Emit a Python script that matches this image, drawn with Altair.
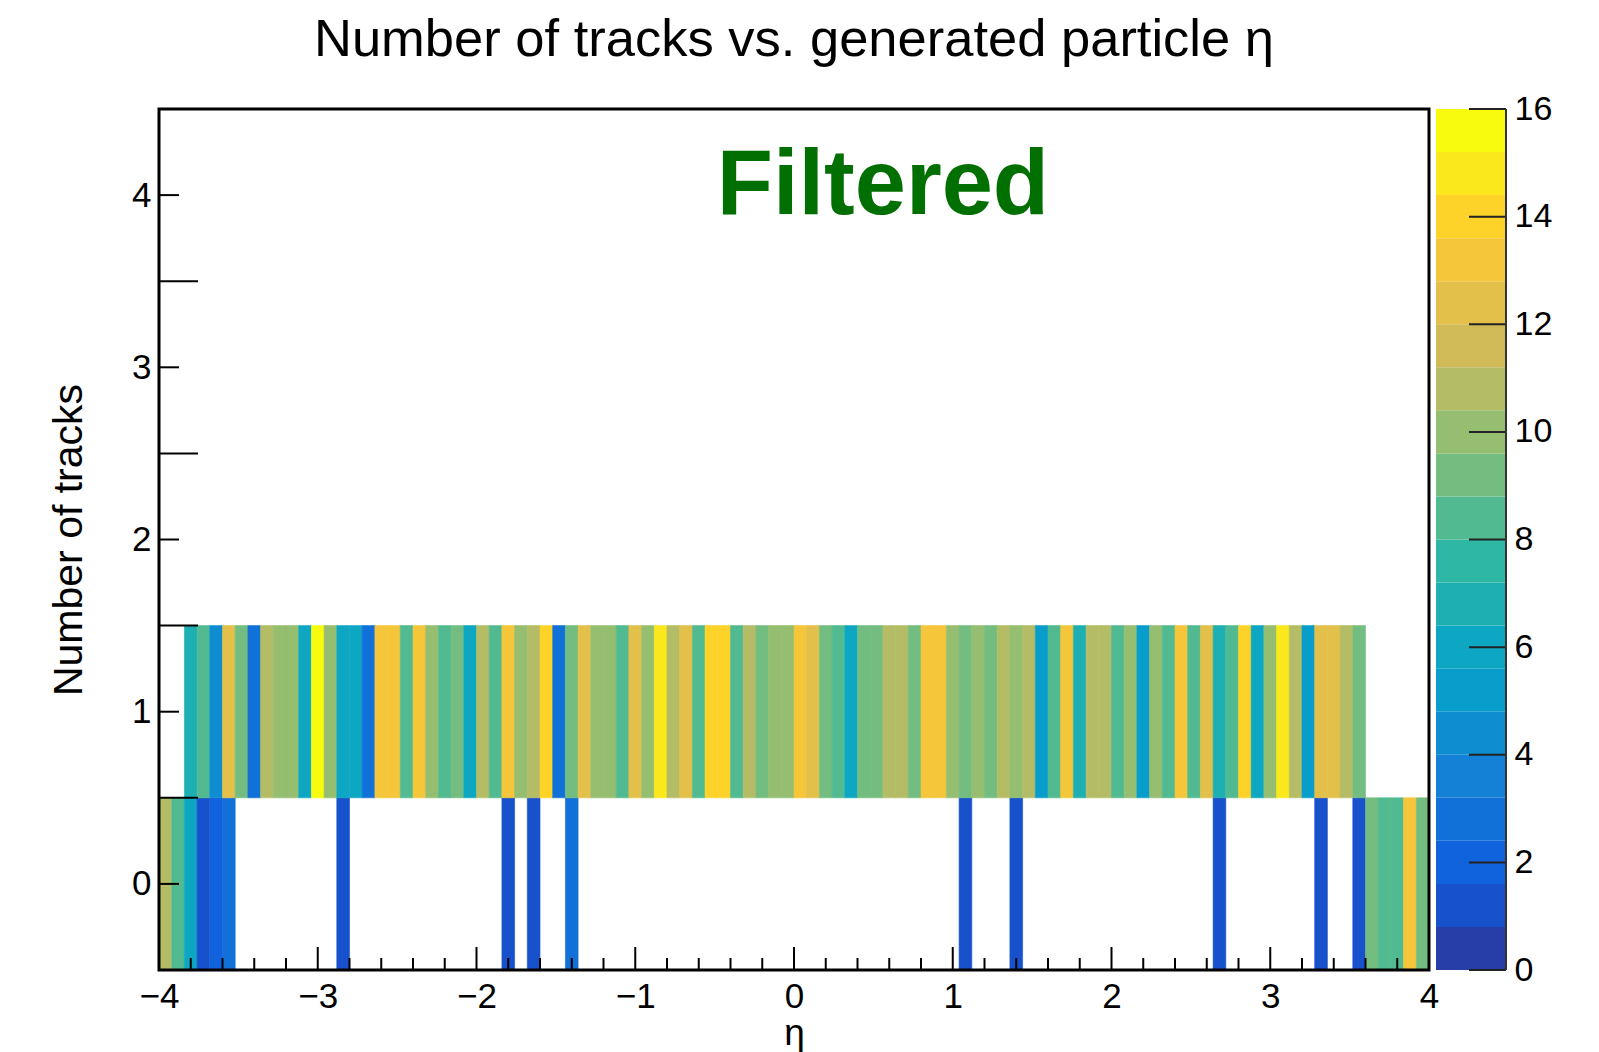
import altair as alt
import numpy as np
import pandas as pd

# ---------------- data ----------------
eta_min, eta_max, n_bins = -4.0, 4.0, 100
ntracks_rows = [0, 1]

counts_ntr0 = [11, 8, 6, 1, 2, 3, 0, 0, 0, 0,
               0, 0, 0, 0, 1, 0, 0, 0, 0, 0,
               0, 0, 0, 0, 0, 0, 0, 1, 0, 1,
               0, 0, 3, 0, 0, 0, 0, 0, 0, 0,
               0, 0, 0, 0, 0, 0, 0, 0, 0, 0,
               0, 0, 0, 0, 0, 0, 0, 0, 0, 0,
               0, 0, 0, 1, 0, 0, 0, 1, 0, 0,
               0, 0, 0, 0, 0, 0, 0, 0, 0, 0,
               0, 0, 0, 1, 0, 0, 0, 0, 0, 0,
               0, 1, 0, 0, 1, 9, 8, 8, 13, 9]

counts_ntr1 = [0, 0, 7, 8, 4, 12, 9, 3, 11, 10,
               10, 6, 16, 10, 6, 6, 3, 13, 13, 8,
               13, 10, 8, 9, 6, 11, 8, 13, 10, 11,
               14, 3, 9, 12, 10, 10, 8, 12, 10, 15,
               11, 12, 8, 14, 14, 8, 11, 9, 10, 10,
               13, 12, 9, 8, 6, 9, 9, 11, 11, 9,
               13, 13, 10, 9, 10, 9, 11, 10, 11, 5,
               8, 13, 7, 11, 11, 8, 10, 5, 10, 8,
               13, 8, 12, 7, 8, 14, 6, 10, 15, 11,
               5, 12, 12, 11, 9, 0, 0, 0, 0, 0]

x_major = [-4, -3, -2, -1, 0, 1, 2, 3, 4]
x_minor = [round(-4 + 0.2 * i, 1) for i in range(41) if i % 5]
y_labels = [0, 1, 2, 3, 4]
y_long = [0.5, 1.5, 2.5, 3.5]
z_max = 16
n_contours = 20
z_ticks = [0, 2, 4, 6, 8, 10, 12, 14, 16]

title_text = "Number of tracks vs. generated particle \u03b7"
x_title = "\u03b7"
y_title = "Number of tracks"
note_text = "Filtered"

# ---------------- style ----------------
W, H = 1270, 861
FONT = "Liberation Sans"
CB_X0, CB_X1 = 1277, 1347

# ROOT kBird palette
stops = [0.0, 0.125, 0.25, 0.375, 0.5, 0.625, 0.75, 0.875, 1.0]
red = [0.2082, 0.0592, 0.0780, 0.0232, 0.1802, 0.5301, 0.8186, 0.9956, 0.9764]
green = [0.1664, 0.3599, 0.5041, 0.6419, 0.7178, 0.7492, 0.7328, 0.7862, 0.9832]
blue = [0.5293, 0.8684, 0.8385, 0.7914, 0.6425, 0.4662, 0.3499, 0.1968, 0.0539]


def bird(f):
    r = np.interp(f, stops, red)
    g = np.interp(f, stops, green)
    b = np.interp(f, stops, blue)
    return "#%02x%02x%02x" % (int(round(r * 255)), int(round(g * 255)), int(round(b * 255)))


band_colors = [bird(int((i + 0.99) * 255 / n_contours) / 254) for i in range(n_contours)]
thresholds = [round(z_max * i / n_contours, 4) for i in range(1, n_contours)]

# ---------------- tables ----------------
bw = (eta_max - eta_min) / n_bins
recs = []
for r, arr in zip(ntracks_rows, [counts_ntr0, counts_ntr1]):
    for k, c in enumerate(arr):
        if c > 0:
            lo = eta_min + k * bw
            recs.append(dict(eta_lo=lo, eta_hi=lo + bw, ntr_lo=r - 0.5, ntr_hi=r + 0.5, count=c))
heat_df = pd.DataFrame(recs)

edges = [z_max * i / n_contours for i in range(n_contours + 1)]
cb_df = pd.DataFrame({"lo": edges[:-1], "hi": edges[1:],
                      "mid": [(a + b) / 2 for a, b in zip(edges[:-1], edges[1:])]})


def xs():
    return alt.Scale(domain=[eta_min, eta_max], nice=False, zero=False)


def ys():
    return alt.Scale(domain=[-0.5, 4.5], nice=False, zero=False)


def zs():
    return alt.Scale(domain=[0, z_max], nice=False, zero=False)


cs = alt.Scale(type="threshold", domain=thresholds, range=band_colors)

x_axis = alt.Axis(values=x_major, ticks=False, domain=False, grid=False,
                  labelFontSize=35, labelPadding=9, labelFlush=False, labelColor="black",
                  title=x_title, titleFontSize=37, titleFontWeight="normal", titleColor="black",
                  titleY=74, titleBaseline="alphabetic")
y_axis = alt.Axis(values=y_labels, ticks=False, domain=False, grid=False,
                  labelFontSize=35, labelPadding=8, labelFlush=False, labelColor="black",
                  title=y_title, titleFontSize=41, titleFontWeight="normal", titleColor="black",
                  titleX=-90, titleY=H / 2, titleBaseline="middle")
cb_axis = alt.Axis(orient="right", offset=CB_X1 - W, values=z_ticks, ticks=False,
                   domain=False, grid=False, labelFontSize=34, labelPadding=8,
                   labelFlush=False, labelColor="black", title=None)

heat = alt.Chart(heat_df).mark_rect(strokeWidth=0.6).encode(
    x=alt.X("eta_lo:Q", scale=xs(), axis=x_axis),
    x2="eta_hi:Q",
    y=alt.Y("ntr_lo:Q", scale=ys(), axis=y_axis),
    y2="ntr_hi:Q",
    color=alt.Color("count:Q", scale=cs, legend=None),
    stroke=alt.Stroke("count:Q", scale=cs, legend=None),
)

tick_style = dict(color="black", strokeWidth=2)
xt_major = alt.Chart(pd.DataFrame({"v": x_major})).mark_rule(**tick_style).encode(
    x=alt.X("v:Q", scale=xs(), axis=None), y=alt.value(H), y2=alt.value(H - 23))
xt_minor = alt.Chart(pd.DataFrame({"v": x_minor})).mark_rule(**tick_style).encode(
    x=alt.X("v:Q", scale=xs(), axis=None), y=alt.value(H), y2=alt.value(H - 12))
yt_short = alt.Chart(pd.DataFrame({"v": y_labels})).mark_rule(**tick_style).encode(
    y=alt.Y("v:Q", scale=ys(), axis=None), x=alt.value(0), x2=alt.value(20))
yt_long = alt.Chart(pd.DataFrame({"v": y_long})).mark_rule(**tick_style).encode(
    y=alt.Y("v:Q", scale=ys(), axis=None), x=alt.value(0), x2=alt.value(39))

note = alt.Chart(pd.DataFrame({"eta": [0.56], "ntr": [3.89], "label": [note_text]})).mark_text(
    font=FONT, fontSize=92, fontWeight="bold", color="#016f01", align="center",
    baseline="alphabetic").encode(
    x=alt.X("eta:Q", scale=xs(), axis=None), y=alt.Y("ntr:Q", scale=ys(), axis=None), text="label:N")

frame = alt.Chart(pd.DataFrame({"a": [0]})).mark_rect(
    fill="transparent", stroke="black", strokeWidth=3).encode(
    x=alt.value(0), x2=alt.value(W), y=alt.value(0), y2=alt.value(H))

cb_rect = alt.Chart(cb_df).mark_rect().encode(
    x=alt.value(CB_X0), x2=alt.value(CB_X1),
    y=alt.Y("lo:Q", scale=zs(), axis=cb_axis), y2="hi:Q",
    color=alt.Color("mid:Q", scale=cs, legend=None))
cb_ticks = alt.Chart(pd.DataFrame({"v": z_ticks})).mark_rule(color="#222222", strokeWidth=2).encode(
    y=alt.Y("v:Q", scale=zs(), axis=None), x=alt.value(CB_X1 - 37), x2=alt.value(CB_X1))
cb_border = alt.Chart(pd.DataFrame({"a": [0]})).mark_rule(color="#333333", strokeWidth=2).encode(
    x=alt.value(CB_X1), y=alt.value(0), y2=alt.value(H))

chart = alt.layer(
    heat, xt_major, xt_minor, yt_short, yt_long, note, frame, cb_rect, cb_ticks, cb_border
).resolve_scale(x="independent", y="independent").properties(
    width=W, height=H,
    title=alt.TitleParams(text=title_text, font=FONT, fontSize=52.5, fontWeight="normal",
                          color="black", anchor="middle", frame="group", offset=25),
    autosize=alt.AutoSizeParams(type="none"),
    padding={"left": 151, "top": 101, "right": 150, "bottom": 85},
).configure_view(strokeWidth=0).configure_axis(labelFont=FONT, titleFont=FONT)

chart.save("out.html", embed_options={"renderer": "svg", "actions": False})
